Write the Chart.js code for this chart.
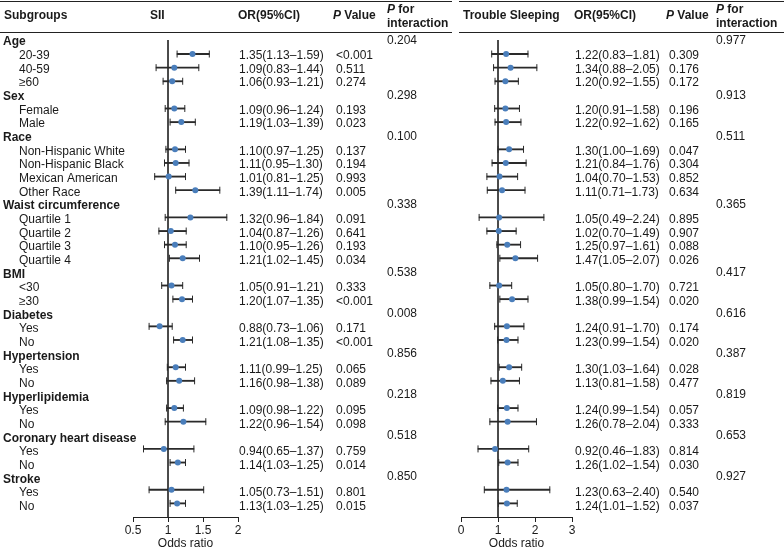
<!DOCTYPE html>
<html>
<head>
<meta charset="utf-8">
<script src="https://cdn.jsdelivr.net/npm/chart.js@4.4.0/dist/chart.umd.min.js"></script>
<style>
  html, body { margin: 0; padding: 0; background: #fff; }
  #wrap { position: relative; width: 784px; height: 548px; }
  #wrap canvas { position: absolute; left: 0; top: 0; }
</style>
</head>
<body>
<div id="wrap">
  <canvas id="left" width="784" height="548"></canvas>
  <canvas id="right" width="784" height="548"></canvas>
</div>
<script>
// Subgroup rows
const groups = ['Age', 'Sex', 'Race', 'Waist circumference', 'BMI', 'Diabetes', 'Hypertension',
  'Hyperlipidemia', 'Coronary heart disease', 'Stroke'];
const subgroups = [
  ['20-39', '40-59', '≥60'],
  ['Female', 'Male'],
  ['Non-Hispanic White', 'Non-Hispanic Black', 'Mexican American', 'Other Race'],
  ['Quartile 1', 'Quartile 2', 'Quartile 3', 'Quartile 4'],
  ['<30', '≥30'],
  ['Yes', 'No'], ['Yes', 'No'], ['Yes', 'No'], ['Yes', 'No'], ['Yes', 'No']
];

// SII panel
const siiOR   = [1.35, 1.09, 1.06, 1.09, 1.19, 1.10, 1.11, 1.01, 1.39, 1.32, 1.04, 1.10, 1.21, 1.05, 1.20, 0.88, 1.21, 1.11, 1.16, 1.09, 1.22, 0.94, 1.14, 1.05, 1.13];
const siiLow  = [1.13, 0.83, 0.93, 0.96, 1.03, 0.97, 0.95, 0.81, 1.11, 0.96, 0.87, 0.95, 1.02, 0.91, 1.07, 0.73, 1.08, 0.99, 0.98, 0.98, 0.96, 0.65, 1.03, 0.73, 1.03];
const siiHigh = [1.59, 1.44, 1.21, 1.24, 1.39, 1.25, 1.30, 1.25, 1.74, 1.84, 1.26, 1.26, 1.45, 1.21, 1.35, 1.06, 1.35, 1.25, 1.38, 1.22, 1.54, 1.37, 1.25, 1.51, 1.25];
const siiCI = ['1.35(1.13–1.59)', '1.09(0.83–1.44)', '1.06(0.93–1.21)', '1.09(0.96–1.24)', '1.19(1.03–1.39)',
  '1.10(0.97–1.25)', '1.11(0.95–1.30)', '1.01(0.81–1.25)', '1.39(1.11–1.74)',
  '1.32(0.96–1.84)', '1.04(0.87–1.26)', '1.10(0.95–1.26)', '1.21(1.02–1.45)',
  '1.05(0.91–1.21)', '1.20(1.07–1.35)', '0.88(0.73–1.06)', '1.21(1.08–1.35)',
  '1.11(0.99–1.25)', '1.16(0.98–1.38)', '1.09(0.98–1.22)', '1.22(0.96–1.54)',
  '0.94(0.65–1.37)', '1.14(1.03–1.25)', '1.05(0.73–1.51)', '1.13(1.03–1.25)'];
const siiP = ['<0.001', '0.511', '0.274', '0.193', '0.023', '0.137', '0.194', '0.993', '0.005', '0.091', '0.641', '0.193', '0.034',
  '0.333', '<0.001', '0.171', '<0.001', '0.065', '0.089', '0.095', '0.098', '0.759', '0.014', '0.801', '0.015'];
const siiPint = ['0.204', '0.298', '0.100', '0.338', '0.538', '0.008', '0.856', '0.218', '0.518', '0.850'];
const siiTicks = [0.5, 1, 1.5, 2];

// Trouble sleeping panel (marks as drawn in the figure)
const sleepOR   = [1.22, 1.34, 1.20, 1.20, 1.22, 1.30, 1.21, 1.04, 1.11, 1.03, 1.02, 1.25, 1.47, 1.03, 1.38, 1.24, 1.23, 1.30, 1.13, 1.24, 1.26, 0.92, 1.26, 1.23, 1.24];
const sleepLow  = [0.83, 0.88, 0.92, 0.91, 0.92, 1.00, 0.84, 0.70, 0.71, 0.49, 0.70, 0.97, 1.05, 0.78, 1.05, 0.91, 0.99, 1.03, 0.81, 0.99, 0.78, 0.46, 1.02, 0.63, 1.01];
const sleepHigh = [1.81, 2.05, 1.55, 1.58, 1.62, 1.69, 1.76, 1.53, 1.73, 2.24, 1.49, 1.61, 2.07, 1.37, 1.81, 1.70, 1.54, 1.64, 1.58, 1.54, 2.04, 1.83, 1.54, 2.40, 1.52];
const sleepCI = ['1.22(0.83–1.81)', '1.34(0.88–2.05)', '1.20(0.92–1.55)', '1.20(0.91–1.58)', '1.22(0.92–1.62)',
  '1.30(1.00–1.69)', '1.21(0.84–1.76)', '1.04(0.70–1.53)', '1.11(0.71–1.73)',
  '1.05(0.49–2.24)', '1.02(0.70–1.49)', '1.25(0.97–1.61)', '1.47(1.05–2.07)',
  '1.05(0.80–1.70)', '1.38(0.99–1.54)', '1.24(0.91–1.70)', '1.23(0.99–1.54)',
  '1.30(1.03–1.64)', '1.13(0.81–1.58)', '1.24(0.99–1.54)', '1.26(0.78–2.04)',
  '0.92(0.46–1.83)', '1.26(1.02–1.54)', '1.23(0.63–2.40)', '1.24(1.01–1.52)'];
const sleepP = ['0.309', '0.176', '0.172', '0.196', '0.165', '0.047', '0.304', '0.852', '0.634', '0.895', '0.907', '0.088', '0.026',
  '0.721', '0.020', '0.174', '0.020', '0.028', '0.477', '0.057', '0.333', '0.814', '0.030', '0.540', '0.037'];
const sleepPint = ['0.977', '0.913', '0.511', '0.365', '0.417', '0.616', '0.387', '0.819', '0.653', '0.927'];
const sleepTicks = [0, 1, 2, 3];

const FONT = '"Liberation Sans", Arial, Helvetica, sans-serif';
const INK = '#1a1a1a';
const Y_MIN = -0.03, Y_MAX = 35;

Chart.defaults.font.family = FONT;
Chart.defaults.font.size = 12;
Chart.defaults.color = INK;

// rows: group header followed by its subgroups
const rows = [];
let k = 0;
groups.forEach((g, gi) => {
  rows.push({ text: g, group: gi });
  subgroups[gi].forEach(s => rows.push({ text: s, sub: k++ }));
});

function panelData(or, lo, hi) {
  const pts = [], caps = [], bars = [];
  rows.forEach((r, i) => {
    if (r.sub === undefined) return;
    const j = r.sub;
    pts.push({ x: or[j], y: i });
    caps.push({ x: lo[j], y: i }, { x: hi[j], y: i });
    bars.push({ x: [lo[j], hi[j]], y: i });
  });
  return [
    { type: 'scatter', data: [{ x: 1, y: Y_MIN }, { x: 1, y: Y_MAX }], showLine: true,
      borderColor: '#333', borderWidth: 1, pointRadius: 0, order: 3 },
    { type: 'bar', indexAxis: 'y', data: bars, backgroundColor: '#2a2a2a', borderWidth: 0,
      barThickness: 1.2, order: 2 },
    { type: 'scatter', data: caps, pointStyle: 'line', pointRotation: 90, pointRadius: 3.5,
      pointBorderColor: '#2a2a2a', pointBorderWidth: 1, order: 1 },
    { type: 'scatter', data: pts, pointStyle: 'circle', pointRadius: 3,
      pointBackgroundColor: '#4a7ebb', pointBorderColor: '#4a7ebb', pointBorderWidth: 0, order: 0 }
  ];
}

function textY(ys, i) {
  return ys.getPixelForValue(i) + 1.6 + i * 0.05;
}

function put(ctx, str, x, y, weight) {
  ctx.font = (weight || 'normal') + ' 12px ' + FONT;
  ctx.fillText(str, x, y);
}

// bold italic P followed by bold text
function putP(ctx, rest, x, y) {
  ctx.font = 'italic bold 12px ' + FONT;
  ctx.fillText('P', x, y);
  const w = ctx.measureText('P').width;
  ctx.font = 'bold 12px ' + FONT;
  ctx.fillText(rest, x + w, y);
}

function tablePlugin(cfg) {
  return {
    id: 'table',
    afterDraw(chart) {
      const ctx = chart.ctx;
      const ys = chart.scales.y;
      ctx.save();
      ctx.fillStyle = INK;
      ctx.textAlign = 'left';
      ctx.textBaseline = 'middle';

      // header
      ctx.strokeStyle = '#222';
      ctx.lineWidth = 1;
      ctx.beginPath();
      [1.5, 32.5].forEach(y => {
        ctx.moveTo(cfg.lineFrom, y);
        ctx.lineTo(cfg.lineTo, y);
      });
      ctx.stroke();
      if (cfg.labels) put(ctx, 'Subgroups', 4, 16, 'bold');
      put(ctx, cfg.title, cfg.titleX, 16, 'bold');
      put(ctx, 'OR(95%CI)', cfg.ciX - 1, 16, 'bold');
      putP(ctx, ' Value', cfg.pX - 3, 16);
      putP(ctx, ' for', cfg.pintX, 10);
      put(ctx, 'interaction', cfg.pintX, 24, 'bold');

      rows.forEach((r, i) => {
        const y = textY(ys, i);
        if (r.sub === undefined) {
          if (cfg.labels) put(ctx, r.text, 3, y, 'bold');
          put(ctx, cfg.pint[r.group], cfg.pintX, ys.getPixelForValue(i) + 0.5);
        } else {
          if (cfg.labels) put(ctx, r.text, 19, y);
          put(ctx, cfg.ci[r.sub], cfg.ciX, y);
          put(ctx, cfg.p[r.sub], cfg.pX, y);
        }
      });
      ctx.restore();
    }
  };
}

function makeChart(id, or, lo, hi, ticks, xmin, xmax, padLeft, padRight, cfg) {
  return new Chart(document.getElementById(id), {
    type: 'scatter',
    data: { datasets: panelData(or, lo, hi) },
    options: {
      responsive: false,
      animation: false,
      devicePixelRatio: 1,
      events: [],
      layout: { padding: { left: padLeft, right: padRight, top: 40, bottom: 0 } },
      plugins: { legend: { display: false }, tooltip: { enabled: false } },
      scales: {
        x: {
          type: 'linear',
          position: 'bottom',
          min: xmin,
          max: xmax,
          offset: false,
          afterBuildTicks: s => { s.ticks = ticks.map(v => ({ value: v })); },
          afterFit: s => { s.height = 31; },
          ticks: { color: INK, padding: 1, font: { size: 12 }, callback: v => String(v) },
          grid: { drawOnChartArea: false, drawTicks: true, tickLength: 5, color: '#222', offset: false },
          border: { display: true, color: '#222', width: 1 },
          title: { display: true, text: 'Odds ratio', color: INK, padding: { top: 0, bottom: -3 }, font: { size: 12 } }
        },
        y: { type: 'linear', reverse: true, min: Y_MIN, max: Y_MAX, offset: false, display: false,
          grid: { offset: false } }
      }
    },
    plugins: [tablePlugin(cfg)]
  });
}

makeChart('left', siiOR, siiLow, siiHigh, siiTicks, 0.5, 2, 133, 546, {
  labels: true, title: 'SII', titleX: 150, ciX: 239, pX: 336, pintX: 387,
  ci: siiCI, p: siiP, pint: siiPint, lineFrom: 0, lineTo: 452
});
makeChart('right', sleepOR, sleepLow, sleepHigh, sleepTicks, 0, 3, 461, 212, {
  labels: false, title: 'Trouble Sleeping', titleX: 463, ciX: 575, pX: 669, pintX: 716,
  ci: sleepCI, p: sleepP, pint: sleepPint, lineFrom: 459, lineTo: 784
});
</script>
</body>
</html>
